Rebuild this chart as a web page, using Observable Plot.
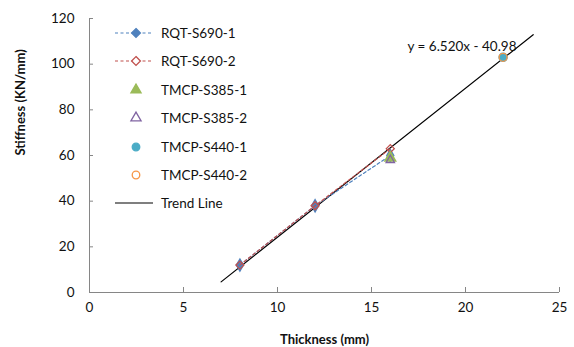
<!DOCTYPE html>
<html>
<head>
<meta charset="utf-8">
<script src="https://cdn.jsdelivr.net/npm/d3@7"></script>
<script src="https://cdn.jsdelivr.net/npm/@observablehq/plot@0.6"></script>
<style>
  html, body { margin: 0; padding: 0; background: #fff; }
  #wrap { position: relative; width: 574px; height: 347px; overflow: hidden; font-family: Lato, "Open Sans", sans-serif; }
  #legend { position: absolute; left: 105px; top: 0; }
  .row { position: absolute; left: 0; height: 20px; display: flex; align-items: center; white-space: nowrap; font-size: 13.5px; color: #111; }
  .row svg { display: block; }
</style>
</head>
<body>
<div id="wrap"><div id="legend"></div></div>
<script>
// ---- data ----
const thicknessRQT = [8, 12, 16];
const rqt1 = [12, 38, 60];
const rqt2 = [12, 38, 63];
const thicknessS385 = [16];
const s385_1 = [59];
const s385_2 = [58];
const thicknessS440 = [22];
const s440_1 = [103];
const s440_2 = [103];
const trendSlope = 6.520;
const trendIntercept = -40.98;
const trendXEnds = [7, 23.6];
const xTicks = [0, 5, 10, 15, 20, 25];
const yTicks = [0, 20, 40, 60, 80, 100, 120];
const seriesNames = ["RQT-S690-1", "RQT-S690-2", "TMCP-S385-1", "TMCP-S385-2", "TMCP-S440-1", "TMCP-S440-2", "Trend Line"];

const colors = {
  "RQT-S690-1": "#4F81BD",
  "RQT-S690-2": "#C0504D",
  "TMCP-S385-1": "#9BBB59",
  "TMCP-S385-2": "#8064A2",
  "TMCP-S440-1": "#4BACC6",
  "TMCP-S440-2": "#F79646",
  "Trend Line": "#000000"
};

const pts = (xs, ys) => xs.map((x, i) => ({x, y: ys[i]}));
const dRqt1 = pts(thicknessRQT, rqt1);
const dRqt2 = pts(thicknessRQT, rqt2);
const dS385_1 = pts(thicknessS385, s385_1);
const dS385_2 = pts(thicknessS385, s385_2);
const dS440_1 = pts(thicknessS440, s440_1);
const dS440_2 = pts(thicknessS440, s440_2);
const dTrend = trendXEnds.map(x => ({x, y: trendSlope * x + trendIntercept}));

const axisColor = "#868686";
const chart = Plot.plot({
  width: 574,
  height: 347,
  marginLeft: 89,
  marginRight: 15,
  marginTop: 18,
  marginBottom: 55,
  style: {fontFamily: "Lato, 'Open Sans', sans-serif", fontSize: "13.5px", color: "#111", background: "transparent"},
  x: {domain: [0, 25]},
  y: {domain: [0, 120]},
  marks: [
    Plot.ruleX([0], {stroke: axisColor}),
    Plot.ruleY([0], {stroke: axisColor}),
    Plot.axisX(xTicks.filter(d => d > 0), {tickSize: -5, text: null, stroke: axisColor, label: null}),
    Plot.axisY(yTicks.filter(d => d > 0), {tickSize: -4, anchor: "left", text: null, stroke: axisColor, label: null}),
    Plot.axisX(xTicks, {tickSize: 0, tickPadding: 10, label: null, fill: "#111"}),
    Plot.axisY(yTicks, {tickSize: 0, tickPadding: 15, label: null, fill: "#111"}),
    Plot.line(dTrend, {x: "x", y: "y", stroke: colors["Trend Line"], strokeWidth: 1.2}),
    Plot.line(dRqt1, {x: "x", y: "y", stroke: colors["RQT-S690-1"], strokeWidth: 1.2, strokeDasharray: "3,2.5"}),
    Plot.dot(dRqt1, {x: "x", y: "y", symbol: "diamond", r: 3.6, fill: colors["RQT-S690-1"], stroke: colors["RQT-S690-1"]}),
    Plot.line(dRqt2, {x: "x", y: "y", stroke: colors["RQT-S690-2"], strokeWidth: 1.2, strokeDasharray: "3,2.5"}),
    Plot.dot(dRqt2, {x: "x", y: "y", symbol: "diamond2", r: 3.6, stroke: colors["RQT-S690-2"], strokeWidth: 1.3}),
    Plot.dot(dS385_1, {x: "x", y: "y", symbol: "triangle", r: 4, fill: colors["TMCP-S385-1"], stroke: colors["TMCP-S385-1"]}),
    Plot.dot(dS385_2, {x: "x", y: "y", symbol: "triangle2", r: 4, stroke: colors["TMCP-S385-2"], strokeWidth: 1.3}),
    Plot.dot(dS440_1, {x: "x", y: "y", symbol: "circle", r: 4, fill: colors["TMCP-S440-1"], stroke: colors["TMCP-S440-1"]}),
    Plot.dot(dS440_2, {x: "x", y: "y", symbol: "circle", r: 4, fill: "none", stroke: colors["TMCP-S440-2"], strokeWidth: 1.3}),
    Plot.text([`y = ${trendSlope.toFixed(3)}x - ${Math.abs(trendIntercept).toFixed(2)}`], {frameAnchor: "top-right", dx: -43, dy: 23, fontSize: 13.5, fill: "#111"}),
    Plot.text(["Thickness (mm)"], {frameAnchor: "bottom", dy: 51, fontWeight: "bold", fontSize: 13, fill: "#111"}),
    Plot.text(["Stiffness (KN/mm)"], {frameAnchor: "left", dx: -69, rotate: -90, fontWeight: "bold", fontSize: 13, fill: "#111"})
  ]
});
document.getElementById("wrap").prepend(chart);

// ---- legend ----
const rowCenters = [33, 61, 90, 118, 147, 175, 203];
const legend = d3.select("#legend");
const symPath = {
  diamond: d3.symbol(d3.symbolDiamond2, 50)(),
  triangle: d3.symbol(d3.symbolTriangle, 45)(),
  circle: d3.symbol(d3.symbolCircle, 45)()
};
const legendSpec = [
  {line: "dash", sym: "diamond", fill: true},
  {line: "dash", sym: "diamond", fill: false},
  {line: null, sym: "triangle", fill: true},
  {line: null, sym: "triangle", fill: false},
  {line: null, sym: "circle", fill: true},
  {line: null, sym: "circle", fill: false},
  {line: "solid", sym: null}
];
seriesNames.forEach((name, i) => {
  const spec = legendSpec[i];
  const c = colors[name];
  const row = legend.append("div").attr("class", "row").style("top", (rowCenters[i] - 10) + "px");
  const svg = row.append("svg").attr("width", 48).attr("height", 20);
  if (spec.line) {
    svg.append("line").attr("x1", 10).attr("x2", 48).attr("y1", 10).attr("y2", 10)
      .attr("stroke", c).attr("stroke-width", 1.2)
      .attr("stroke-dasharray", spec.line === "dash" ? "3,2.5" : null);
  }
  if (spec.sym) {
    svg.append("path").attr("d", symPath[spec.sym]).attr("transform", "translate(31,10)")
      .attr("fill", spec.fill ? c : "#fff").attr("stroke", c).attr("stroke-width", 1.3);
  }
  row.append("span").style("margin-left", "8px").text(name);
});
</script>
</body>
</html>
